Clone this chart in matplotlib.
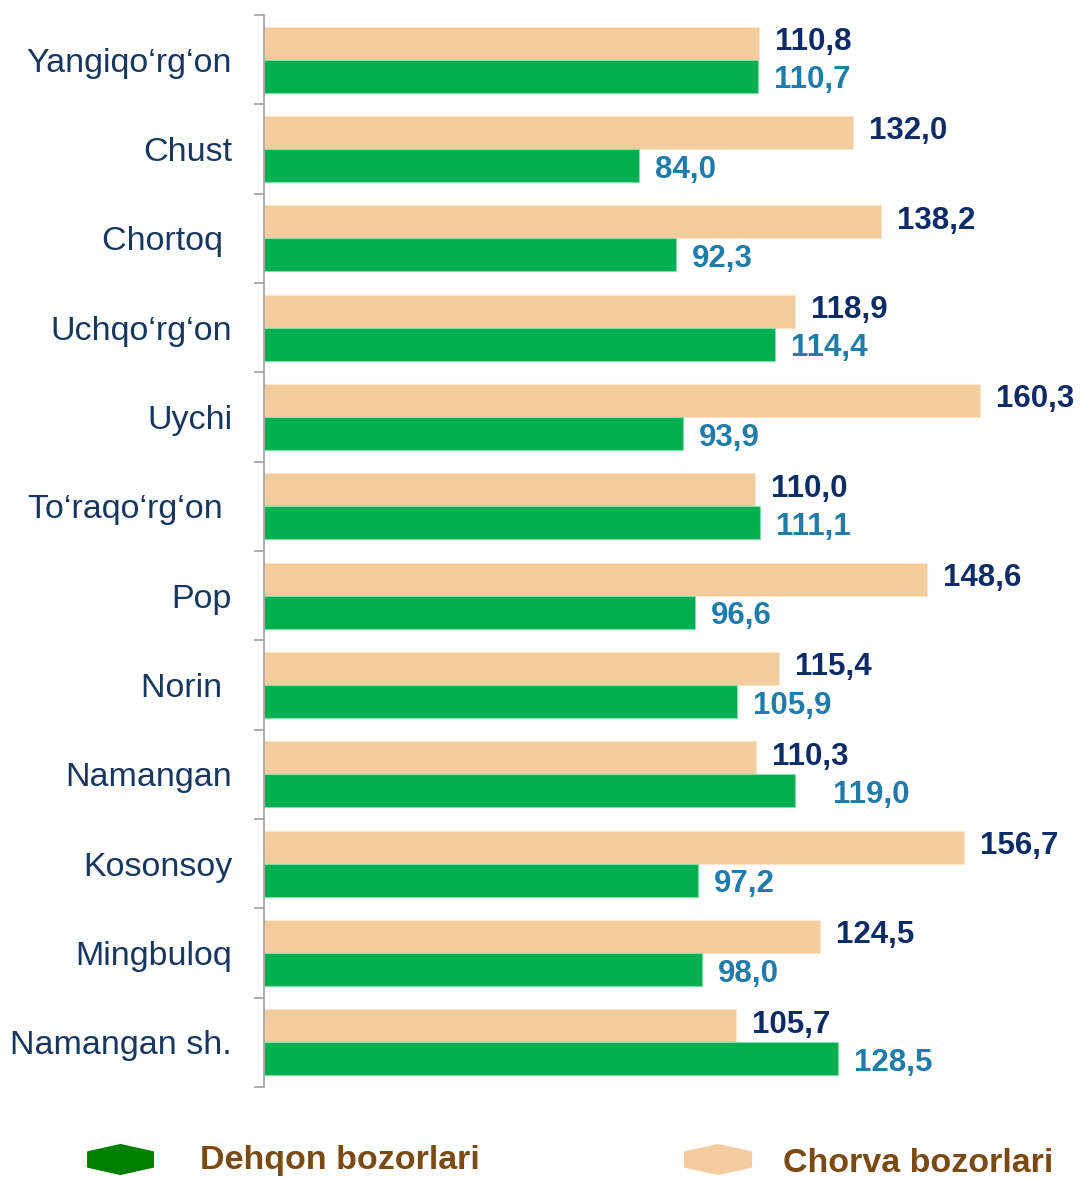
import matplotlib.pyplot as plt
import numpy as np
from matplotlib.patches import Polygon
from matplotlib.ticker import FixedLocator, NullFormatter

plt.rcParams["font.family"] = ["Liberation Sans", "DejaVu Sans"]

districts = [
    "Yangiqo‘rg‘on", "Chust", "Chortoq ", "Uchqo‘rg‘on", "Uychi", "To‘raqo‘rg‘on ",
    "Pop", "Norin ", "Namangan", "Kosonsoy", "Mingbuloq", "Namangan sh.",
]
chorva = [110.8, 132.0, 138.2, 118.9, 160.3, 110.0, 148.6, 115.4, 110.3, 156.7, 124.5, 105.7]
dehqon = [110.7, 84.0, 92.3, 114.4, 93.9, 111.1, 96.6, 105.9, 119.0, 97.2, 98.0, 128.5]

C_CHORVA = "#F3CC9C"
C_DEHQON = "#00B050"
C_NAVY = "#0D2B66"
C_TEAL = "#1F7BAA"
C_CAT = "#17375E"
C_LEG = "#7A4A12"

W, H = 1081, 1178
fig = plt.figure(figsize=(W / 100, H / 100), dpi=100)
ax = fig.add_axes([264 / W, 1 - 1087 / H, 1 - 264 / W, (1087 - 15) / H])

y = np.arange(len(districts))
bh = 0.37
ax.barh(y - bh / 2, chorva, height=bh, color=C_CHORVA, edgecolor="#FBE6CC", linewidth=0.8)
ax.barh(y + bh / 2, dehqon, height=bh, color=C_DEHQON, edgecolor="#7FDDA6", linewidth=0.8)

for i in range(len(districts)):
    ax.annotate(f"{chorva[i]:.1f}".replace(".", ","), (chorva[i], i - bh / 2),
                xytext=(16, 1), textcoords="offset pixels", ha="left", va="center",
                fontsize=22.5, fontweight="bold", color=C_NAVY)
    dx = 38 if i == 8 else 16
    ax.annotate(f"{dehqon[i]:.1f}".replace(".", ","), (dehqon[i], i + bh / 2),
                xytext=(dx, -4), textcoords="offset pixels", ha="left", va="center",
                fontsize=22.5, fontweight="bold", color=C_TEAL)

ax.set_xlim(0, 183)
ax.set_ylim(len(districts) - 0.5, -0.5)
ax.set_xticks([])
ax.set_yticks(y)
ax.set_yticklabels(districts, fontsize=24.5, color=C_CAT)
ax.tick_params(axis="y", which="major", length=0, pad=23)
ax.yaxis.set_minor_locator(FixedLocator(np.arange(-0.5, len(districts), 1.0)))
ax.yaxis.set_minor_formatter(NullFormatter())
ax.tick_params(axis="y", which="minor", length=7, width=1.2, color="#A0A0A0")
for side in ("top", "right", "bottom"):
    ax.spines[side].set_visible(False)
ax.spines["left"].set_color("#A0A0A0")
ax.spines["left"].set_linewidth(1.2)


def hexagon(x0, y0, w, h, color):
    pts = [(x0 + w / 2, y0), (x0 + w, y0 + h * 0.25), (x0 + w, y0 + h * 0.75),
           (x0 + w / 2, y0 + h), (x0, y0 + h * 0.75), (x0, y0 + h * 0.25)]
    pts = [(px / W, 1 - py / H) for px, py in pts]
    fig.patches.append(Polygon(pts, closed=True, transform=fig.transFigure,
                               facecolor=color, edgecolor=color, linewidth=1.5,
                               joinstyle="round"))


hexagon(88, 1145, 65, 29, "#008000")
hexagon(685, 1145, 66, 29, "#F5CBA0")
fig.text(200 / W, 1 - 1160 / H, "Dehqon bozorlari", fontsize=24.5, fontweight="bold",
         color=C_LEG, va="center", ha="left")
fig.text(783 / W, 1 - 1164 / H, "Chorva bozorlari", fontsize=24.5, fontweight="bold",
         color=C_LEG, va="center", ha="left")

fig.savefig("out.png", dpi=100)
plt.close(fig)
